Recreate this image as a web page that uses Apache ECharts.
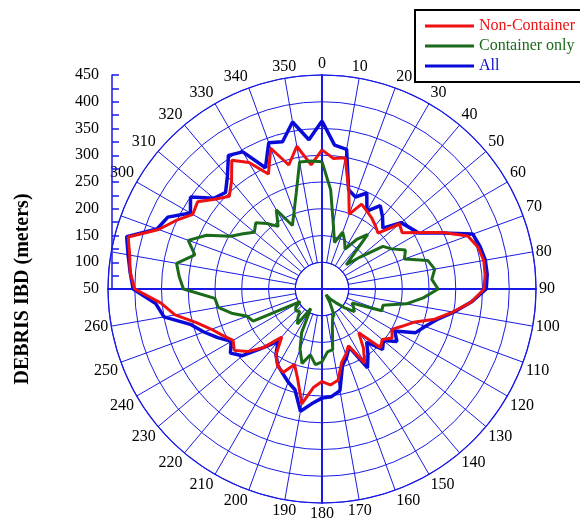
<!DOCTYPE html>
<html><head><meta charset="utf-8">
<script src="https://cdn.jsdelivr.net/npm/echarts@6/dist/echarts.min.js"></script>
<style>html,body{margin:0;padding:0;background:#fff}#c{width:580px;height:519px}</style>
</head><body><div id="c"></div>
<script>
// ---- data (degrees clockwise from north, debris IBD in meters) ----
const angles = [0,5,10,15,20,25,30,35,40,45,50,55,60,65,70,75,80,85,
  90,95,100,105,110,115,120,125,130,135,140,145,150,155,160,165,170,175,
  180,185,190,195,200,205,210,215,220,225,230,235,240,245,250,255,260,265,
  270,275,280,285,290,295,300,305,310,315,320,325,330,335,340,345,350,355];

const nonContainer = [310,295,299,243,199,225,218,212,205,198,239,233,261,300,340,352,357,356,
  353,330,298,268,232,215,201,210,197,205,157,185,210,167,180,192,223,230,
  223,235,268,225,200,222,216,200,167,205,232,250,242,255,270,293,329,352,
  400,410,415,425,375,352,329,334,311,295,313,344,323,287,330,290,321,283];

const containerOnly = [288,236,172,140,163,150,136,163,183,114,143,189,200,222,214,255,264,256,
  267,240,210,168,169,112,118,124,104,86,75,63,80,103,108,125,165,168,
  186,192,175,194,170,140,92,130,120,109,114,110,97,192,199,225,247,251,
  309,318,326,296,316,288,247,230,215,225,210,193,221,181,203,236,291,290];

const allDebris = [364,320,315,242,233,248,218,240,226,211,243,250,259,298,350,356,360,360,
  357,330,300,272,255,243,207,221,200,210,180,200,220,170,185,198,243,252,
  254,265,282,245,235,224,215,200,178,205,244,259,246,265,285,305,350,362,
  403,410,418,428,378,368,334,350,314,305,325,355,346,300,341,335,367,330];

const radialTicks = [50,100,150,200,250,300,350,400,450];
const angleTicksHidden = [270,280,290,360];
const seriesNames = ['Non-Container','Container only','All'];

// ---- styles ----
const FONT = 'Liberation Serif';
const GRID_BLUE = '#1a1ae6';
const RED = '#ee1111';
const GREEN = '#1a6a1a';
const BLUE = '#0a0ad8';

function closedPolar(vals){
  const d = angles.map((a,i)=>[vals[i], a]);
  d.push([vals[0], 360]);
  return d;
}
const rStep = radialTicks[1]-radialTicks[0];
const rMin = radialTicks[0], rMax = radialTicks[radialTicks.length-1];

const chart = echarts.init(document.getElementById('c'), null, {renderer:'canvas'});
const option = {
  animation:false,
  backgroundColor:'#fff',
  textStyle:{fontFamily:FONT},
  polar:[
    {center:[322,289], radius:[214*(rStep)/(rMax-rMin), 214]},
    {center:[322,289], radius:[0,214]}
  ],
  angleAxis:[
    {polarIndex:0,type:'value',min:0,max:360,interval:10,startAngle:90,clockwise:true,
     axisLine:{show:true,lineStyle:{color:GRID_BLUE,width:1.2}},
     axisTick:{show:false},
     axisLabel:{show:true,margin:3,color:'#000',fontSize:16,fontFamily:FONT,
       formatter:v=>angleTicksHidden.includes(v)?'':String(v)},
     splitLine:{show:true,lineStyle:{color:GRID_BLUE,width:1}}},
    {polarIndex:1,type:'value',min:0,max:360,interval:10,startAngle:90,clockwise:true,
     axisLine:{show:false},axisTick:{show:false},axisLabel:{show:false},splitLine:{show:false}}
  ],
  radiusAxis:[
    {polarIndex:0,type:'value',min:rMin+rStep,max:rMax,interval:rStep,
     axisLine:{show:false},axisTick:{show:false},axisLabel:{show:false},
     splitLine:{show:true,lineStyle:{color:GRID_BLUE,width:1}}},
    {polarIndex:1,type:'value',min:rMin,max:rMax,interval:rStep,
     axisLine:{show:false},axisTick:{show:false},axisLabel:{show:false},splitLine:{show:false}}
  ],
  grid:[
    {left:108, top:75, width:428, height:428},
    {left:112, top:75, width:10, height:214}
  ],
  xAxis:[
    {gridIndex:0,type:'value',min:-1,max:1,
     axisLine:{show:true,onZero:true,lineStyle:{color:GRID_BLUE,width:2}},
     axisTick:{show:false},axisLabel:{show:false},splitLine:{show:false}},
    {gridIndex:1,type:'value',show:false}
  ],
  yAxis:[
    {gridIndex:0,type:'value',min:-1,max:1,
     axisLine:{show:true,onZero:true,lineStyle:{color:GRID_BLUE,width:2}},
     axisTick:{show:false},axisLabel:{show:false},splitLine:{show:false}},
    {gridIndex:1,type:'value',min:rMin,max:rMax,interval:rStep,position:'left',
     axisLine:{show:true,onZero:false,lineStyle:{color:GRID_BLUE,width:1.5}},
     axisTick:{show:true,inside:true,length:7,lineStyle:{color:GRID_BLUE,width:1.5}},
     minorTick:{show:true,splitNumber:2,length:7,lineStyle:{color:GRID_BLUE,width:1.5}},
     axisLabel:{color:'#000',fontSize:16,fontFamily:FONT,margin:13},
     splitLine:{show:false}}
  ],
  legend:{orient:'vertical',left:415,top:10,padding:[7,20,7,10],
    itemWidth:49,itemHeight:3,itemGap:2,icon:'rect',
    borderColor:'#000',borderWidth:2,backgroundColor:'#fff',
    textStyle:{fontFamily:FONT,fontSize:16,lineHeight:18},
    data:[
      {name:seriesNames[0],textStyle:{color:RED}},
      {name:seriesNames[1],textStyle:{color:GREEN}},
      {name:seriesNames[2],textStyle:{color:BLUE}}
    ]},
  graphic:[{type:'text',x:23,y:289,rotation:Math.PI/2,
    style:{text:'DEBRIS IBD (meters)',fontFamily:FONT,fontWeight:'bold',fontSize:20,
      fill:'#000',align:'center',verticalAlign:'middle'}}],
  series:[
    {name:seriesNames[2],type:'line',coordinateSystem:'polar',polarIndex:1,
     data:closedPolar(allDebris),symbol:'none',
     lineStyle:{color:BLUE,width:3.5},itemStyle:{color:BLUE},z:3},
    {name:seriesNames[0],type:'line',coordinateSystem:'polar',polarIndex:1,
     data:closedPolar(nonContainer),symbol:'none',
     lineStyle:{color:RED,width:3},itemStyle:{color:RED},z:4},
    {name:seriesNames[1],type:'line',coordinateSystem:'polar',polarIndex:1,
     data:closedPolar(containerOnly),symbol:'none',
     lineStyle:{color:GREEN,width:3},itemStyle:{color:GREEN},z:5}
  ]
};
chart.setOption(option);
</script>
</body></html>
